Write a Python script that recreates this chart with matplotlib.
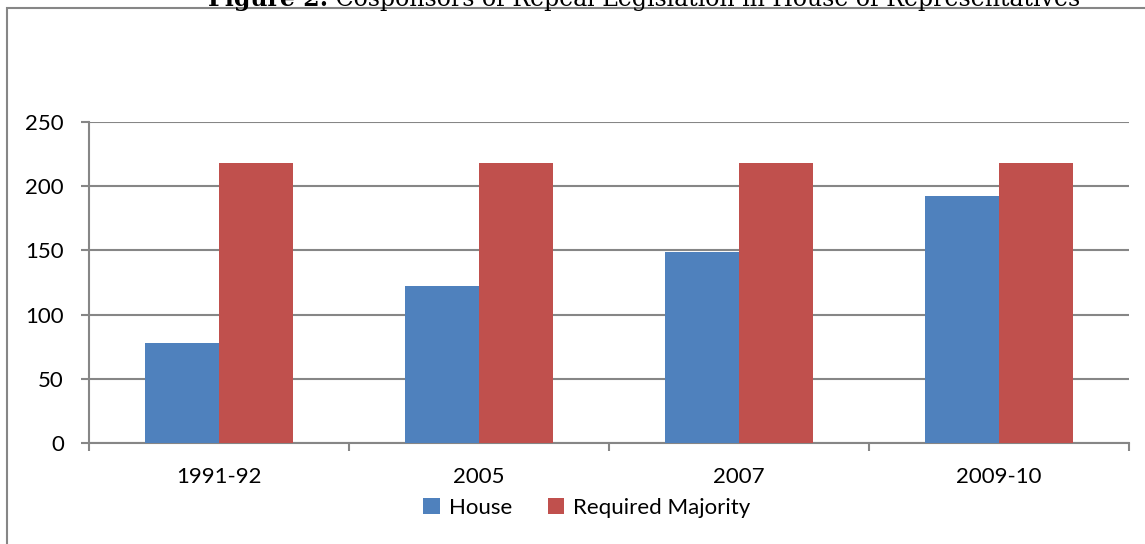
import numpy as np
import matplotlib
matplotlib.use('Agg')
import matplotlib.pyplot as plt
from matplotlib.patches import Rectangle

categories = ['1991-92', '2005', '2007', '2009-10']
house = [78, 122, 149, 192]
required_majority = [218, 218, 218, 218]
yticks = [0, 50, 100, 150, 200, 250]

BLUE = '#4F81BD'
RED = '#C0504D'
GRID = '#868686'

plt.rcParams['font.family'] = ['Lato', 'DejaVu Sans']

fig = plt.figure(figsize=(11.45, 5.44), dpi=100)
ax = fig.add_axes([89 / 1145, 1 - 443 / 544, 1040 / 1145, 321 / 544])

x = np.arange(len(categories))
w = 0.285
ax.bar(x - w / 2, house, w, color=BLUE, label='House', zorder=3)
ax.bar(x + w / 2, required_majority, w, color=RED, label='Required Majority', zorder=3)

ax.set_xlim(-0.5, len(categories) - 0.5)
ax.set_ylim(0, 250)
ax.set_yticks(yticks)
ax.yaxis.grid(True, color=GRID, linewidth=1.5, zorder=0)
ax.set_axisbelow(True)

# category labels at centres, tick marks at boundaries
ax.set_xticks(x)
ax.set_xticklabels(categories)
ax.set_xticks(np.arange(len(categories) + 1) - 0.5, minor=True)
ax.tick_params(axis='x', which='major', length=0, pad=17, labelsize=16)
ax.tick_params(axis='x', which='minor', length=6, width=1.5, color=GRID, direction='out')
ax.tick_params(axis='y', length=6, width=1.5, color=GRID, pad=12, labelsize=16)

for s in ['top', 'right']:
    ax.spines[s].set_visible(False)
for s in ['left', 'bottom']:
    ax.spines[s].set_color(GRID)
    ax.spines[s].set_linewidth(1.5)

fig.legend(loc='center', bbox_to_anchor=(587 / 1145, 1 - 508 / 544), ncol=2,
           frameon=False, fontsize=16, handlelength=0.75, handleheight=0.75,
           handletextpad=0.4, columnspacing=1.6)

# outer chart frame
fig.patches.append(Rectangle((7 / 1145, -0.05), 1.2, 1.05 - 8 / 544,
                             transform=fig.transFigure, fill=False,
                             edgecolor=GRID, linewidth=1.5))

# title, partly cut off at the top edge as in the original
fig.canvas.draw()
r = fig.canvas.get_renderer()
ty = 1 - 6 / 544
t1 = fig.text(208 / 1145, ty, 'Figure 2:', family='DejaVu Serif', weight='bold',
              fontsize=17, va='baseline', ha='left')
bb = t1.get_window_extent(r)
fig.text(bb.x1 / fig.bbox.width, ty, ' Cosponsors of Repeal Legislation in House of Representatives',
         family='DejaVu Serif', fontsize=17, va='baseline', ha='left')

fig.savefig('out.png', dpi=100)
